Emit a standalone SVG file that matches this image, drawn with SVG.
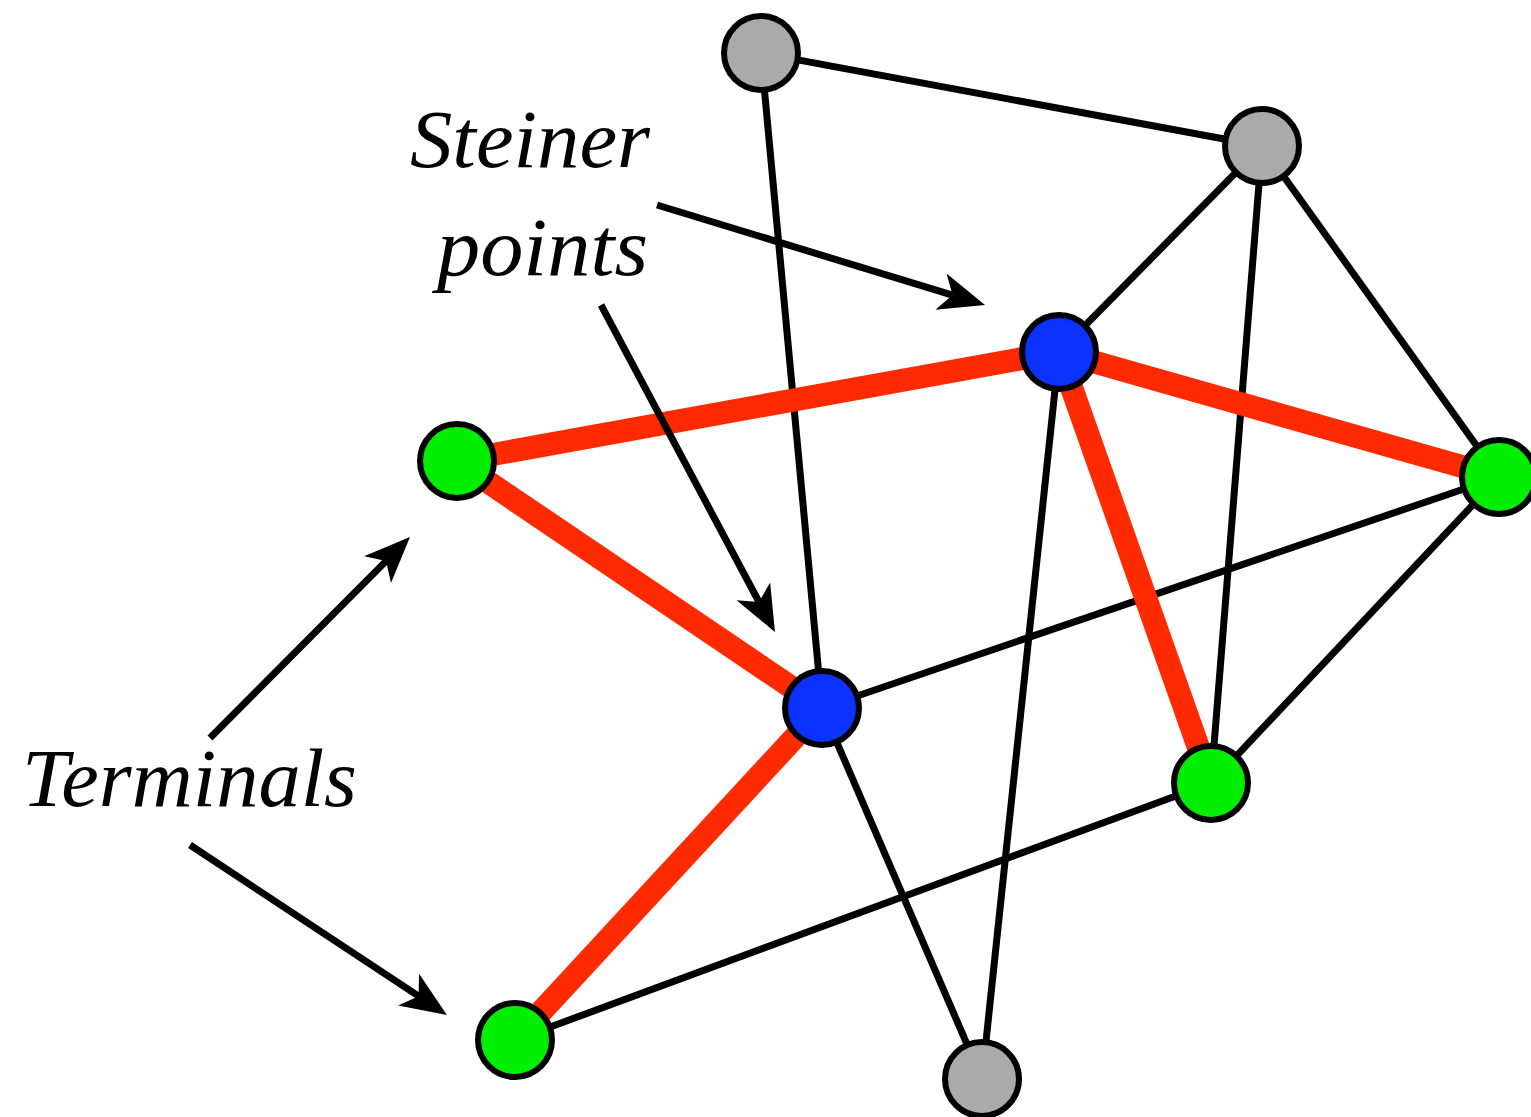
<svg xmlns="http://www.w3.org/2000/svg" width="1531" height="1117" viewBox="0 0 1531 1117">
<style>
.edge{stroke:#000;stroke-width:7;fill:none}
.tree{stroke:#ff2a00;stroke-width:23;fill:none}
.arrow{stroke:#000;stroke-width:7;fill:none;marker-end:url(#ah)}
.node{stroke:#000;stroke-width:6}
.gray{fill:#aaaaaa}
.blue{fill:#0b32ff}
.green{fill:#00ee00}
.lbl{font-family:"Liberation Serif","DejaVu Serif",serif;font-style:italic;font-size:82px;fill:#000}
</style>
<defs>
<marker id="ah" markerUnits="userSpaceOnUse" viewBox="-14 -22 50 44" refX="0" refY="0" markerWidth="50" markerHeight="44" orient="auto">
<path d="M34,0 L-12,-19 L0,0 L-12,19 Z" fill="#000"/>
</marker>
</defs>
<g id="connectors">
<line class="edge" x1="761" y1="53" x2="1262" y2="146"/>
<line class="edge" x1="761" y1="53" x2="822" y2="708"/>
<line class="edge" x1="1262" y1="146" x2="1059" y2="352"/>
<line class="edge" x1="1262" y1="146" x2="1211" y2="783"/>
<line class="edge" x1="1262" y1="146" x2="1499" y2="477"/>
<line class="edge" x1="1059" y1="352" x2="982" y2="1079"/>
<line class="edge" x1="822" y1="708" x2="1499" y2="477"/>
<line class="edge" x1="1499" y1="477" x2="1211" y2="783"/>
<line class="edge" x1="822" y1="708" x2="982" y2="1079"/>
<line class="edge" x1="1211" y1="783" x2="515" y2="1040"/>
<line class="tree" x1="457" y1="461" x2="1059" y2="352"/>
<line class="tree" x1="1059" y1="352" x2="1499" y2="477"/>
<line class="tree" x1="1059" y1="352" x2="1211" y2="783"/>
<line class="tree" x1="457" y1="461" x2="822" y2="708"/>
<line class="tree" x1="822" y1="708" x2="515" y2="1040"/>
<line class="arrow" x1="657" y1="205" x2="952.5" y2="295.1"/>
<line class="arrow" x1="601" y1="305" x2="759" y2="602"/>
<line class="arrow" x1="210" y1="738" x2="386" y2="561.1"/>
<line class="arrow" x1="190" y1="845" x2="418.6" y2="996.2"/>
</g>
<g id="n-gray1"><circle class="node gray" cx="761" cy="53" r="37"/></g>
<g id="n-gray2"><circle class="node gray" cx="1262" cy="146" r="37"/></g>
<g id="n-gray3"><circle class="node gray" cx="982" cy="1079" r="37"/></g>
<g id="n-blue1"><circle class="node blue" cx="1059" cy="352" r="37"/></g>
<g id="n-blue2"><circle class="node blue" cx="822" cy="708" r="37"/></g>
<g id="n-green1"><circle class="node green" cx="457" cy="461" r="37"/></g>
<g id="n-green2"><circle class="node green" cx="1499" cy="477" r="37"/></g>
<g id="n-green3"><circle class="node green" cx="1211" cy="783" r="37"/></g>
<g id="n-green4"><circle class="node green" cx="515" cy="1040" r="37"/></g>
<g id="labels">
<text class="lbl" x="410" y="167" textLength="240" lengthAdjust="spacingAndGlyphs">Steiner</text>
<text class="lbl" x="437" y="275" textLength="211" lengthAdjust="spacingAndGlyphs">points</text>
<text class="lbl" x="22" y="806" textLength="335" lengthAdjust="spacingAndGlyphs">Terminals</text>
</g>
</svg>
